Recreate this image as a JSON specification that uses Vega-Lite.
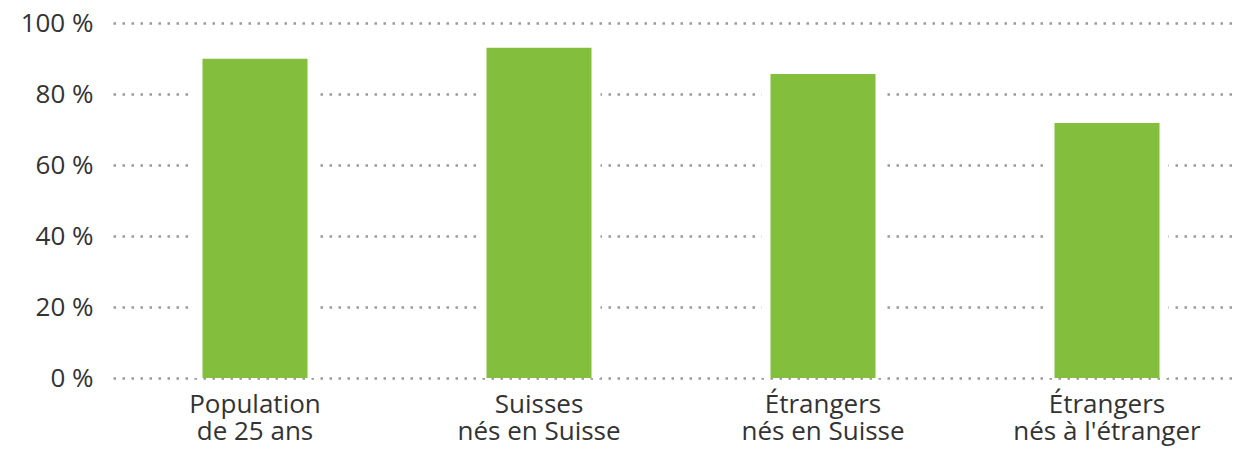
{
  "$schema": "https://vega.github.io/schema/vega-lite/v6.json",
  "width": 1126,
  "height": 355,
  "autosize": "none",
  "padding": {"left": 110, "top": 23, "right": 0, "bottom": 72},
  "background": "white",
  "config": {
    "view": {"stroke": null},
    "font": "Open Sans",
    "axis": {"labelFont": "Open Sans", "labelColor": "#333333", "labelFontSize": 26, "labelLimit": 400, "domain": false, "ticks": false, "title": null}
  },
  "data": {
    "values": [
      {"groupe": "Population\nde 25 ans", "taux": 89.9},
      {"groupe": "Suisses\nnés en Suisse", "taux": 93.0},
      {"groupe": "Étrangers\nnés en Suisse", "taux": 85.6},
      {"groupe": "Étrangers\nnés à l'étranger", "taux": 71.8}
    ]
  },
  "encoding": {
    "x": {
      "field": "groupe",
      "type": "nominal",
      "sort": null,
      "scale": {"range": [3, 1139], "paddingInner": 0, "paddingOuter": 0},
      "axis": {"labelAngle": 0, "labelPadding": 13, "labelLineHeight": 27, "labelExpr": "split(datum.label, '\\n')", "grid": false, "labelBaseline": "top"}
    },
    "y": {
      "field": "taux",
      "type": "quantitative",
      "scale": {"domain": [0, 100], "nice": false},
      "axis": {"values": [0, 20, 40, 60, 80, 100], "labelExpr": "datum.value + ' %'", "labelPadding": 17, "grid": true, "gridColor": "#9a9a9a", "gridWidth": 2.5, "gridDash": [2.5, 6.5], "gridCap": "butt"}
    }
  },
  "layer": [
    {"mark": {"type": "bar", "color": "white", "size": 123}},
    {"mark": {"type": "bar", "color": "#84BE3D", "size": 105}}
  ]
}
